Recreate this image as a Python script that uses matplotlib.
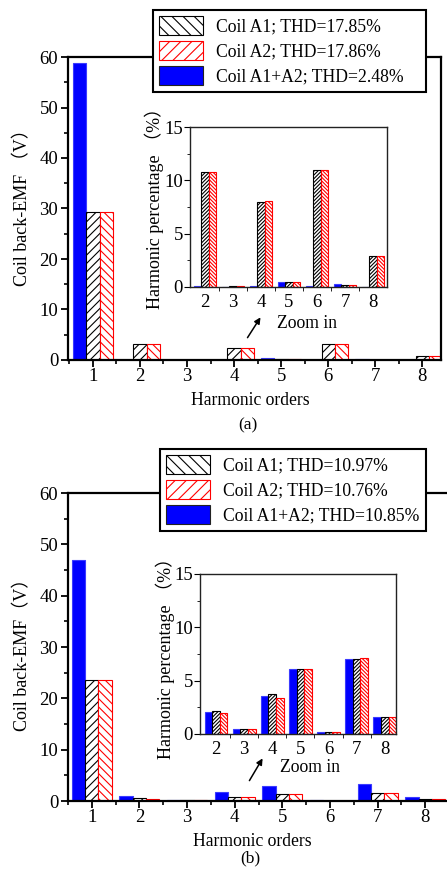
import matplotlib
matplotlib.use("Agg")
import matplotlib.pyplot as plt
from matplotlib.patches import Patch
from matplotlib.ticker import MultipleLocator

plt.rcParams['font.family'] = ['Liberation Serif', 'Noto Sans CJK SC']
plt.rcParams['hatch.linewidth'] = 0.8

# harmonic orders
orders = [1, 2, 3, 4, 5, 6, 7, 8]
zoom_orders = [2, 3, 4, 5, 6, 7, 8]

# (a) coil back-EMF (V)
a_sum = [58.8, 0.05, 0.02, 0.05, 0.3, 0.05, 0.15, 0.02]
a_c1 = [29.4, 3.2, 0.02, 2.4, 0.13, 3.25, 0.07, 0.85]
a_c2 = [29.4, 3.2, 0.02, 2.4, 0.13, 3.25, 0.07, 0.85]
# (a) harmonic percentage (%)
a_sum_pct = [0.05, 0.03, 0.05, 0.5, 0.07, 0.25, 0.0]
a_c1_pct = [10.8, 0.05, 8.0, 0.45, 11.0, 0.2, 2.9]
a_c2_pct = [10.8, 0.05, 8.05, 0.45, 11.0, 0.2, 2.9]
a_labels = ['Coil A1; THD=17.85%', 'Coil A2; THD=17.86%', 'Coil A1+A2; THD=2.48%']

# (b) coil back-EMF (V)
b_sum = [47.0, 1.0, 0.25, 1.7, 2.9, 0.1, 3.4, 0.8]
b_c1 = [23.5, 0.5, 0.12, 0.85, 1.45, 0.05, 1.65, 0.4]
b_c2 = [23.5, 0.45, 0.12, 0.8, 1.45, 0.05, 1.65, 0.38]
# (b) harmonic percentage (%)
b_sum_pct = [2.1, 0.5, 3.6, 6.1, 0.2, 7.05, 1.6]
b_c1_pct = [2.2, 0.5, 3.75, 6.1, 0.2, 7.0, 1.6]
b_c2_pct = [2.0, 0.5, 3.4, 6.05, 0.2, 7.1, 1.6]
b_labels = ['Coil A1; THD=10.97%', 'Coil A2; THD=10.76%', 'Coil A1+A2; THD=10.85%']

W, H = 447, 869
fig = plt.figure(figsize=(W / 100, H / 100), dpi=100)


def px(x, y):
    return x / W, 1 - y / H


def box(x0, y0, x1, y1):
    return [x0 / W, 1 - y1 / H, (x1 - x0) / W, (y1 - y0) / H]


def bars(ax, x, s, c1, c2, w, dense):
    xs = [v - w for v in x]
    x2 = [v + w for v in x]
    h1 = '/' * dense
    h2 = '\\' * dense
    ax.bar(xs, s, w, color='#0000ff', edgecolor='#3b3bff', lw=0.8)
    ax.bar(x, c1, w, color='white', edgecolor='black', hatch=h1, lw=0.8)
    ax.bar(x2, c2, w, color='white', edgecolor='red', hatch=h2, lw=0.8)


def main_panel(rect, xlim, s, c1, c2):
    ax = fig.add_axes(rect)
    bars(ax, orders, s, c1, c2, 0.28, 4)
    ax.set_xlim(*xlim)
    ax.set_ylim(0, 60)
    ax.set_xticks(orders)
    ax.xaxis.set_minor_locator(MultipleLocator(0.5))
    ax.yaxis.set_major_locator(MultipleLocator(10))
    ax.yaxis.set_minor_locator(MultipleLocator(5))
    ax.tick_params(which='major', direction='out', length=5, width=1.3,
                   labelsize=13.5, pad=2)
    ax.tick_params(axis='x', which='major', pad=1)
    ax.tick_params(which='minor', direction='out', length=3, width=1.2)
    for sp in ax.spines.values():
        sp.set_linewidth(1.6)
    return ax


def inset_panel(rect, xlim, s, c1, c2):
    ax = fig.add_axes(rect)
    bars(ax, zoom_orders, s, c1, c2, 0.27, 9)
    ax.set_xlim(*xlim)
    ax.set_ylim(0, 15)
    ax.set_xticks(zoom_orders)
    ax.set_xticks([v + 0.5 for v in zoom_orders[:-1]], minor=True)
    ax.yaxis.set_major_locator(MultipleLocator(5))
    ax.yaxis.set_minor_locator(MultipleLocator(2.5))
    ax.tick_params(axis='x', which='major', length=0, labelsize=13.5, pad=5)
    ax.tick_params(axis='x', which='minor', direction='out', length=3)
    ax.tick_params(axis='y', which='major', direction='out', length=4,
                   labelsize=13.5, pad=1)
    ax.tick_params(axis='y', which='minor', direction='out', length=2.5)
    for sp in ax.spines.values():
        sp.set_linewidth(1.0)
        sp.set_color('#222222')
    return ax


def legend(x0, y0, x1, y1, labels):
    handles = [Patch(facecolor='white', edgecolor='black', hatch='\\\\\\', lw=0.8),
               Patch(facecolor='white', edgecolor='red', hatch='///', lw=0.8),
               Patch(facecolor='#0000ff', edgecolor='#222222', lw=0.8)]
    l, b, w, h = box(x0, y0, x1, y1)
    leg = fig.legend(handles, labels, loc='upper left', mode='expand',
                     bbox_to_anchor=(l, b, w, h), borderaxespad=0,
                     fontsize=12.7, handlelength=2.5, handleheight=1.25,
                     labelspacing=0.33, handletextpad=0.7, borderpad=0.35,
                     fancybox=False, framealpha=1, edgecolor='black')
    leg.get_frame().set_linewidth(1.5)


# panel (a)
main_panel(box(68, 57, 441, 360), (0.47, 8.4), a_sum, a_c1, a_c2)
inset_panel(box(190, 127, 387, 287), (1.46, 8.5), a_sum_pct, a_c1_pct, a_c2_pct)
legend(153, 10, 426, 92, a_labels)
fig.text(*px(23, 203), 'Coil back-EMF （V）', rotation=90, ha='center',
         va='center', fontsize=13)
fig.text(*px(154, 204), 'Harmonic percentage （%）', rotation=90, ha='center',
         va='center', fontsize=13)
fig.text(*px(250, 401), 'Harmonic orders', ha='center', va='center', fontsize=12.7)
fig.text(*px(248, 425), '(a)', ha='center', va='center', fontsize=12.5)
fig.text(*px(307, 323), 'Zoom in', ha='center', va='center', fontsize=12.7)
fig.add_artist(matplotlib.patches.FancyArrowPatch(
    px(246, 340), px(262, 315), transform=fig.transFigure,
    arrowstyle='-|>', mutation_scale=9, lw=1.1, color='black'))

# panel (b)
main_panel(box(68, 493, 449, 801), (0.5, 8.5), b_sum, b_c1, b_c2)
inset_panel(box(200, 574, 396, 734), (1.43, 8.4), b_sum_pct, b_c1_pct, b_c2_pct)
legend(160, 449, 426, 534, b_labels)
fig.text(*px(23, 650), 'Coil back-EMF（V）', rotation=90, ha='center',
         va='center', fontsize=13)
fig.text(*px(165, 654), 'Harmonic percentage （%）', rotation=90, ha='center',
         va='center', fontsize=13)
fig.text(*px(252, 842), 'Harmonic orders', ha='center', va='center', fontsize=12.7)
fig.text(*px(250, 858), '(b)', ha='center', va='center', fontsize=12.5)
fig.text(*px(310, 767), 'Zoom in', ha='center', va='center', fontsize=12.7)
fig.add_artist(matplotlib.patches.FancyArrowPatch(
    px(248, 783), px(264, 756), transform=fig.transFigure,
    arrowstyle='-|>', mutation_scale=9, lw=1.1, color='black'))

fig.savefig('out.png', dpi=100)
